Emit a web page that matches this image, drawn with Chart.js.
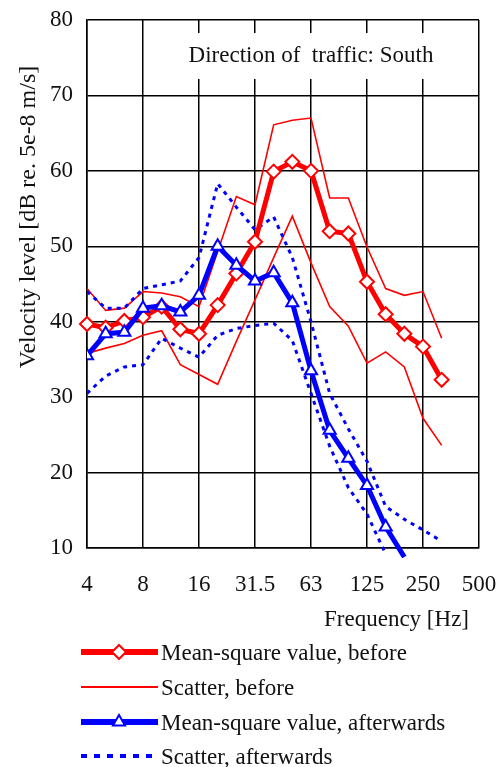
<!DOCTYPE html>
<html>
<head>
<meta charset="utf-8">
<script src="https://cdn.jsdelivr.net/npm/chart.js@4"></script>
<style>
  body { margin: 0; background: #fff; }
  canvas { display: block; }
</style>
</head>
<body>
<canvas id="myChart" width="499" height="767"></canvas>
<script>
// third-octave bands, 4 Hz .. 500 Hz
const freqs = ['4', '5', '6.3', '8', '10', '12.5', '16', '20', '25', '31.5', '40', '50',
               '63', '80', '100', '125', '160', '200', '250', '315', '400', '500'];
// only these get a tick label and a grid line
const tickLabels = ['4', '8', '16', '31.5', '63', '125', '250', '500'];

// velocity level, dB re. 5e-8 m/s
const meanBefore = [39.7, 39.2, 40.1, 40.6, 42.0, 39.0, 38.4, 42.2, 46.4, 50.6, 59.9, 61.2,
                    60.0, 52.0, 51.7, 45.3, 41.0, 38.4, 36.7, 32.3, null, null];
const scatterBeforeHigh = [44.4, 41.5, 41.8, 44.0, 43.8, 43.3, 42.0, 49.3, 56.6, 55.5, 66.1, 66.7,
                           67.0, 56.4, 56.4, 49.9, 44.4, 43.5, 44.0, 37.8, null, null];
const scatterBeforeLow = [35.8, 36.5, 37.1, 38.2, 38.8, 34.3, 33.0, 31.7, 37.4, 42.9, 48.5, 54.0,
                          47.8, 42.0, 39.4, 34.5, 36.0, 34.0, 27.2, 23.6, null, null];

const meanAfter = [35.5, 38.4, 38.6, 41.8, 42.1, 41.3, 43.5, 50.0, 47.5, 45.4, 46.5, 42.5,
                   33.5, 25.6, 21.9, 18.3, 12.8, 8.8, null, null, null, null];
const scatterAfterHigh = [44.0, 41.8, 41.8, 44.4, 44.9, 45.4, 48.5, 58.3, 55.2, 52.2, 53.9, 48.5,
                          40.0, 30.5, 25.8, 21.5, 15.5, 13.8, 12.4, 10.9, null, null];
const scatterAfterLow = [30.5, 32.8, 34.0, 34.3, 37.8, 36.5, 35.3, 38.2, 39.1, 39.5, 39.8, 37.5,
                         30.5, 23.5, 18.0, 14.5, 9.2, null, null, null, null, null];

const RED = '#ff0000';
const BLUE = '#0000ff';
const INK = '#111';
const SERIF = "'Liberation Serif', 'DejaVu Serif', serif";

// texts drawn on the canvas: box note, axis titles, legend
const extras = {
    id: 'extras',
    beforeDatasetsDraw(chart) {
        const ctx = chart.ctx;
        ctx.save();
        ctx.fillStyle = '#fff';
        ctx.fillRect(178, 33, 262, 46);
        ctx.fillStyle = INK;
        ctx.font = '23px ' + SERIF;
        ctx.textAlign = 'center';
        ctx.textBaseline = 'middle';
        ctx.fillText('Direction of  traffic: South', 311, 56);
        ctx.restore();
    },
    afterDraw(chart) {
        const ctx = chart.ctx;
        ctx.save();
        ctx.fillStyle = INK;
        ctx.font = '23px ' + SERIF;
        ctx.textBaseline = 'middle';

        ctx.textAlign = 'right';
        ctx.fillText('Frequency [Hz]', 469, 620);

        ctx.save();
        ctx.translate(29, 217);
        ctx.rotate(-Math.PI / 2);
        ctx.textAlign = 'center';
        ctx.font = '24px ' + SERIF;
        ctx.fillText('Velocity level [dB re. 5e-8 m/s]', 0, 0);
        ctx.restore();

        // legend
        const rows = [652, 687, 722, 756];
        chart.data.datasets.forEach(function (ds, i) {
            if (!ds.label) return;
            const y = rows[i];
            ctx.save();
            ctx.strokeStyle = ds.borderColor;
            ctx.lineWidth = ds.legendWidth;
            ctx.setLineDash(ds.legendDash || []);
            ctx.beginPath();
            ctx.moveTo(81, y);
            ctx.lineTo(158, y);
            ctx.stroke();
            ctx.restore();
            if (ds.pointRadius) {
                ctx.save();
                ctx.fillStyle = '#fff';
                ctx.strokeStyle = ds.borderColor;
                ctx.lineWidth = 2;
                Chart.helpers.drawPoint(ctx, {
                    pointStyle: ds.pointStyle,
                    radius: ds.pointRadius,
                    borderWidth: 2
                }, 119, y);
                ctx.restore();
            }
            ctx.textAlign = 'left';
            ctx.fillStyle = INK;
            ctx.fillText(ds.label, 161, y + 2);
        });
        ctx.restore();
    }
};

const ctx = document.getElementById('myChart').getContext('2d');

new Chart(ctx, {
    type: 'line',
    data: {
        labels: freqs,
        datasets: [
            {
                label: 'Mean-square value, before',
                data: meanBefore,
                borderColor: RED,
                borderWidth: 5,
                legendWidth: 6,
                pointStyle: 'rectRot',
                pointRadius: 7,
                pointBorderWidth: 2,
                pointBackgroundColor: '#fff',
                pointBorderColor: RED,
                order: 1
            },
            {
                label: 'Scatter, before',
                data: scatterBeforeHigh,
                borderColor: RED,
                borderWidth: 1.6,
                legendWidth: 2,
                pointRadius: 0,
                order: 3
            },
            {
                label: 'Mean-square value, afterwards',
                data: meanAfter,
                borderColor: BLUE,
                borderWidth: 5,
                legendWidth: 6,
                pointStyle: 'triangle',
                pointRadius: 7,
                pointBorderWidth: 2,
                pointBackgroundColor: '#fff',
                pointBorderColor: BLUE,
                clip: {left: 0, top: 0, right: 0, bottom: 10},
                order: 0
            },
            {
                label: 'Scatter, afterwards',
                data: scatterAfterHigh,
                borderColor: BLUE,
                borderWidth: 3,
                borderDash: [4, 5],
                legendWidth: 4,
                legendDash: [6, 7],
                pointRadius: 0,
                clip: {left: 0, top: 0, right: 0, bottom: 4},
                order: 2
            },
            // second scatter curves, kept out of the legend
            {
                label: '',
                data: scatterBeforeLow,
                borderColor: RED,
                borderWidth: 1.6,
                pointRadius: 0,
                order: 3
            },
            {
                label: '',
                data: scatterAfterLow,
                borderColor: BLUE,
                borderWidth: 3,
                borderDash: [4, 5],
                pointRadius: 0,
                clip: {left: 0, top: 0, right: 0, bottom: 4},
                order: 2
            }
        ]
    },
    options: {
        responsive: false,
        animation: false,
        spanGaps: false,
        layout: { padding: { top: 20, right: 20, bottom: 0, left: 0 } },
        plugins: {
            legend: { display: false },
            tooltip: { enabled: false }
        },
        scales: {
            x: {
                type: 'category',
                border: { display: true, color: '#000', width: 1.5 },
                grid: {
                    drawTicks: false,
                    lineWidth: 1.5,
                    color: function (c) {
                        return tickLabels.includes(freqs[c.index]) ? '#000' : 'rgba(0,0,0,0)';
                    }
                },
                ticks: {
                    autoSkip: false,
                    maxRotation: 0,
                    padding: 23,
                    color: INK,
                    font: { family: SERIF, size: 23 },
                    callback: function (v, i) {
                        return tickLabels.includes(freqs[i]) ? freqs[i] : '';
                    }
                },
                afterFit: function (scale) {
                    scale.height = 219;
                    scale.paddingLeft = 0;
                    scale.paddingRight = 0;
                }
            },
            y: {
                min: 10,
                max: 80,
                border: { display: true, color: '#000', width: 1.5 },
                grid: { drawTicks: false, lineWidth: 1.5, color: '#000' },
                ticks: {
                    stepSize: 10,
                    padding: 14,
                    color: INK,
                    font: { family: SERIF, size: 23 }
                },
                afterFit: function (scale) {
                    scale.width = 87;
                    scale.paddingTop = 0;
                    scale.paddingBottom = 0;
                }
            }
        }
    },
    plugins: [extras]
});
</script>
</body>
</html>
